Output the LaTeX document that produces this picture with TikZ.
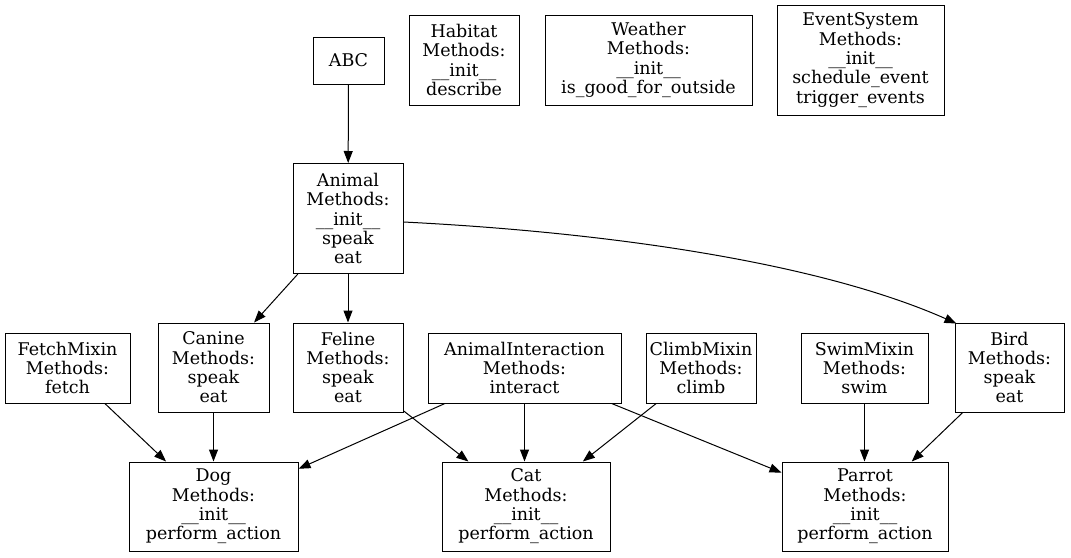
\documentclass[tikz,border=0pt]{standalone}
\usepackage{fontspec}
\setmainfont{DejaVu Serif}
\usetikzlibrary{arrows.meta}
\tikzset{
  cls/.style={draw, line width=1pt, inner sep=0pt, align=center,
    font=\fontsize{17.5}{19.3}\selectfont},
  edge/.style={line width=1pt, -{Triangle[length=12pt,width=9pt]}}
}
\begin{document}
\begin{tikzpicture}[x=1pt,y=-1pt]
\useasboundingbox (0,0) rectangle (1071,557);
% top row
\node[cls, minimum width=71, minimum height=47] (ABC) at (348.5,60.5) {ABC};
\node[cls, minimum width=110, minimum height=90] (Habitat) at (464,60) {Habitat\\Methods:\\\_\_init\_\_\\describe};
\node[cls, minimum width=207, minimum height=90] (Weather) at (648.5,60) {Weather\\Methods:\\\_\_init\_\_\\is\_good\_for\_outside};
\node[cls, minimum width=167, minimum height=110] (Event) at (860.5,60) {EventSystem\\Methods:\\\_\_init\_\_\\schedule\_event\\trigger\_events};
% animal
\node[cls, minimum width=110, minimum height=110] (Animal) at (348,218.5) {Animal\\Methods:\\\_\_init\_\_\\speak\\eat};
% middle row
\node[cls, minimum width=125, minimum height=70] (Fetch) at (67.5,368) {FetchMixin\\Methods:\\fetch};
\node[cls, minimum width=111, minimum height=89] (Canine) at (213.5,367.5) {Canine\\Methods:\\speak\\eat};
\node[cls, minimum width=110, minimum height=89] (Feline) at (348,367.5) {Feline\\Methods:\\speak\\eat};
\node[cls, minimum width=193, minimum height=70] (Inter) at (524.5,368) {AnimalInteraction\\Methods:\\interact};
\node[cls, minimum width=110, minimum height=70] (Climb) at (701,368) {ClimbMixin\\Methods:\\climb};
\node[cls, minimum width=127, minimum height=70] (Swim) at (864.5,368) {SwimMixin\\Methods:\\swim};
\node[cls, minimum width=109, minimum height=89] (Bird) at (1009.5,367.5) {Bird\\Methods:\\speak\\eat};
% bottom row
\node[cls, minimum width=169, minimum height=89] (Dog) at (213.5,506.5) {Dog\\Methods:\\\_\_init\_\_\\perform\_action};
\node[cls, minimum width=168, minimum height=89] (Cat) at (526,506.5) {Cat\\Methods:\\\_\_init\_\_\\perform\_action};
\node[cls, minimum width=166, minimum height=89] (Parrot) at (865,506.5) {Parrot\\Methods:\\\_\_init\_\_\\perform\_action};
% edges
\draw[edge] (ABC) -- (Animal);
\draw[edge] (Animal) -- (Canine);
\draw[edge] (Animal) -- (Feline);
\draw[edge] ([yshift=-3.5]Animal.east) .. controls +(200,10) and +(-140,-62) .. ([xshift=2,yshift=-1]Bird.north west);
\draw[edge] (Fetch) -- (Dog);
\draw[edge] (Canine) -- (Dog);
\draw[edge] (Inter) -- (Dog);
\draw[edge] (Feline) -- (Cat);
\draw[edge] (Inter) -- (Inter |- Cat.north);
\draw[edge] (Climb) -- (Cat);
\draw[edge] (Inter) -- (Parrot);
\draw[edge] (Swim) -- (Swim |- Parrot.north);
\draw[edge] (Bird) -- (Parrot);
\end{tikzpicture}
\end{document}
